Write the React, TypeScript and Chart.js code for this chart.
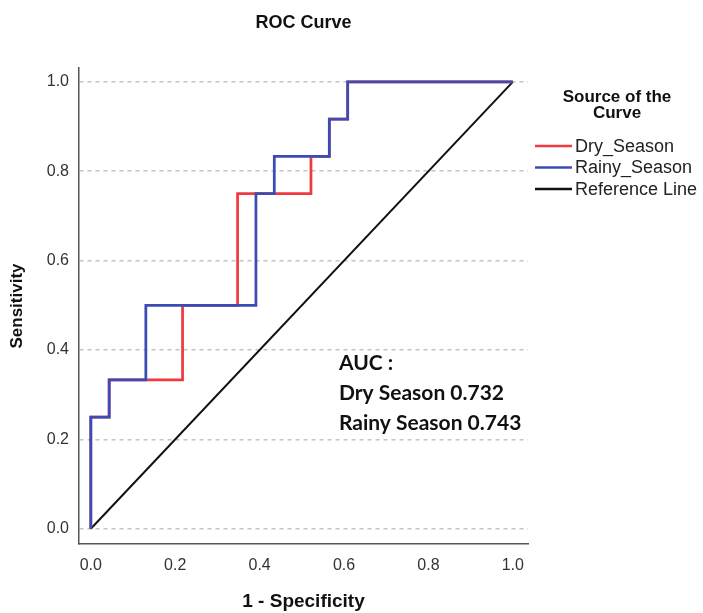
import React, { useEffect, useRef } from "react";
import { Chart, registerables } from "chart.js";

Chart.register(...registerables);

// ---- Data (ROC coordinates: 1 - specificity vs sensitivity) ----
const dryFpr = [0, 0, 0.0435, 0.0435, 0.2174, 0.2174, 0.3478, 0.3478, 0.5217, 0.5217, 0.5652, 0.5652, 0.6087, 0.6087, 1.0];
const dryTpr = [0, 0.25, 0.25, 0.3333, 0.3333, 0.5, 0.5, 0.75, 0.75, 0.8333, 0.8333, 0.9167, 0.9167, 1.0, 1.0];

const rainyFpr = [0, 0, 0.0435, 0.0435, 0.1304, 0.1304, 0.3913, 0.3913, 0.4348, 0.4348, 0.5652, 0.5652, 0.6087, 0.6087, 1.0];
const rainyTpr = [0, 0.25, 0.25, 0.3333, 0.3333, 0.5, 0.5, 0.75, 0.75, 0.8333, 0.8333, 0.9167, 0.9167, 1.0, 1.0];

const refX = [0, 1];
const refY = [0, 1];

const seriesLabels = ["Dry_Season", "Rainy_Season", "Reference Line"];
const xTickValues = [0, 0.2, 0.4, 0.6, 0.8, 1.0];
const yTickValues = [0, 0.2, 0.4, 0.6, 0.8, 1.0];

const chartTitle = "ROC Curve";
const xTitle = "1 - Specificity";
const yTitle = "Sensitivity";
const legendTitle = ["Source of the", "Curve"];

const aucHeader = "AUC :";
const aucNames = ["Dry Season", "Rainy Season"];
const aucValues = [0.732, 0.743];

// ---- Styles ----
const FONT = '"Liberation Sans", Arial, Helvetica, sans-serif';
const AUC_FONT = 'Lato, "Open Sans", sans-serif';
const RED = "#f03a3f";
const BLUE = "#3b4db5";
const BLACK = "#111111";

const toPts = (xs: number[], ys: number[]) => xs.map((x, i) => ({ x, y: ys[i] }));

const legendPlugin = {
  id: "spssLegend",
  afterDraw(chart: any) {
    const ctx = chart.ctx as CanvasRenderingContext2D;
    ctx.save();
    const cx = 617;
    ctx.fillStyle = "#111";
    ctx.font = `bold 17px ${FONT}`;
    ctx.textAlign = "center";
    ctx.textBaseline = "alphabetic";
    legendTitle.forEach((t, i) => ctx.fillText(t, cx, 102 + i * 15.5));
    ctx.font = `18px ${FONT}`;
    ctx.textAlign = "left";
    ctx.textBaseline = "middle";
    chart.data.datasets.forEach((ds: any, i: number) => {
      const y = 146 + i * 21.5;
      ctx.strokeStyle = ds.borderColor;
      ctx.lineWidth = 2.5;
      ctx.beginPath();
      ctx.moveTo(535, y);
      ctx.lineTo(572, y);
      ctx.stroke();
      ctx.fillStyle = "#222";
      ctx.fillText(ds.label, 575, y + 1);
    });
    ctx.restore();
  },
};

const aucPlugin = {
  id: "aucText",
  afterDatasetsDraw(chart: any) {
    const ctx = chart.ctx as CanvasRenderingContext2D;
    const xs = chart.scales.x;
    const ys = chart.scales.y;
    ctx.save();
    ctx.fillStyle = "#111";
    ctx.font = `bold 21px ${AUC_FONT}`;
    ctx.textAlign = "left";
    ctx.textBaseline = "alphabetic";
    const x = xs.getPixelForValue(0.588);
    const lines = [aucHeader, ...aucNames.map((n, i) => `${n} ${aucValues[i].toFixed(3)}`)];
    const yVals = [0.356, 0.289, 0.222];
    lines.forEach((l, i) => ctx.fillText(l, x, ys.getPixelForValue(yVals[i])));
    ctx.restore();
  },
};

export default function App() {
  const ref = useRef<HTMLCanvasElement | null>(null);

  useEffect(() => {
    if (!ref.current) return;
    Chart.defaults.font.family = FONT;
    const chart = new Chart(ref.current, {
      type: "scatter",
      data: {
        datasets: [
          {
            label: seriesLabels[0],
            data: toPts(dryFpr, dryTpr),
            showLine: true,
            borderColor: RED,
            backgroundColor: RED,
            borderWidth: 2.75,
            pointRadius: 0,
            tension: 0,
            order: 1,
          },
          {
            label: seriesLabels[1],
            data: toPts(rainyFpr, rainyTpr),
            showLine: true,
            borderColor: BLUE,
            backgroundColor: BLUE,
            borderWidth: 2.75,
            pointRadius: 0,
            tension: 0,
            order: 0,
          },
          {
            label: seriesLabels[2],
            data: toPts(refX, refY),
            showLine: true,
            borderColor: BLACK,
            backgroundColor: BLACK,
            borderWidth: 2,
            pointRadius: 0,
            tension: 0,
            order: 2,
          },
        ],
      },
      options: {
        animation: false,
        responsive: false,
        devicePixelRatio: 1,
        layout: { padding: { left: 0, right: 175, top: 0, bottom: 0 } },
        plugins: {
          legend: { display: false },
          tooltip: { enabled: false },
          title: {
            display: true,
            text: chartTitle,
            fullSize: false,
            color: "#111",
            font: { family: FONT, size: 18, weight: "bold" },
            padding: { top: 12, bottom: 34.4 },
          },
        },
        scales: {
          x: {
            type: "linear",
            min: -0.028,
            max: 1.036,
            afterBuildTicks: (s: any) => {
              s.ticks = xTickValues.map((v) => ({ value: v }));
            },
            afterFit: (s: any) => {
              s.height = 69;
            },
            grid: { display: false, drawTicks: false },
            border: { display: true, color: "#555", width: 1.5 },
            ticks: {
              color: "#333",
              font: { family: FONT, size: 16 },
              padding: 12,
              maxRotation: 0,
              callback: (v: any) => Number(v).toFixed(1),
            },
            title: {
              display: true,
              text: xTitle,
              color: "#111",
              font: { family: FONT, size: 19, weight: "bold" },
              padding: { top: 0, bottom: 0 },
            },
          },
          y: {
            type: "linear",
            min: -0.034,
            max: 1.031,
            afterBuildTicks: (s: any) => {
              s.ticks = yTickValues.map((v) => ({ value: v }));
            },
            afterFit: (s: any) => {
              s.width = 79;
            },
            grid: { display: true, drawTicks: false, color: "#c4c4c4", lineWidth: 1.5 },
            border: { display: true, color: "#555", width: 1.5, dash: [4, 4] },
            ticks: {
              color: "#333",
              font: { family: FONT, size: 16 },
              padding: 10,
              callback: (v: any) => Number(v).toFixed(1),
            },
            title: {
              display: true,
              text: yTitle,
              color: "#111",
              font: { family: FONT, size: 17, weight: "bold" },
              padding: { top: 7, bottom: 0 },
            },
          },
        },
      },
      plugins: [aucPlugin, legendPlugin],
    } as any);
    return () => chart.destroy();
  }, []);

  return (
    <div style={{ position: "fixed", left: 0, top: 0, width: 703, height: 613, background: "#fff" }}>
      <canvas ref={ref} width={703} height={613} style={{ display: "block" }} />
    </div>
  );
}
